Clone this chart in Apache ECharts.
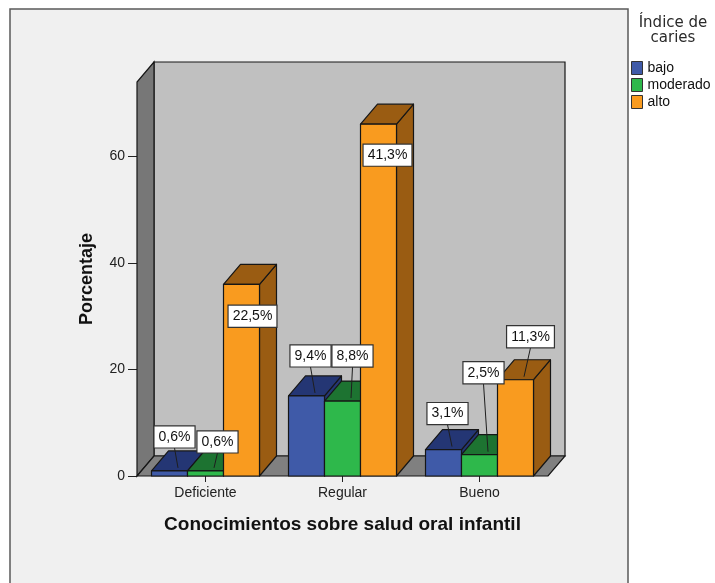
<!DOCTYPE html>
<html>
<head>
<meta charset="utf-8">
<title>Conocimientos sobre salud oral infantil</title>
<script src="https://cdn.jsdelivr.net/npm/echarts@6/dist/echarts.min.js"></script>
<style>
  html, body { margin: 0; padding: 0; background: #ffffff; }
  #chart { width: 715px; height: 583px; }
</style>
</head>
<body>
<div id="chart"></div>
<script>
// ---- Datos: porcentaje por nivel de conocimiento e índice de caries ----
const categories = ['Deficiente', 'Regular', 'Bueno'];
const seriesNames = ['bajo', 'moderado', 'alto'];
const bajo = [0.6, 9.4, 3.1];
const moderado = [0.6, 8.8, 2.5];
const alto = [22.5, 41.3, 11.3];

// Eje vertical: posiciones de las marcas y sus rótulos
const yTickValues = [0, 12.5, 25, 37.5];
const yTickLabels = ['0', '20', '40', '60'];
const yMax = 46.25;

// ---- Estilo ----
const FONT = '"Liberation Sans", Arial, Helvetica, sans-serif';
const DEPTH = { dx: 17, dy: -20 };          // desplazamiento de la profundidad 3D
const BAR_FRACTION = 36 / 137;               // ancho de barra relativo a la banda
const EDGE = '#161616';
const faceColors = [
  { front: '#3F5AA8', dark: '#243674' },
  { front: '#2EB84B', dark: '#1D7331' },
  { front: '#F99B1F', dark: '#9A5C12' }
];
// desplazamiento de cada etiqueta respecto al centro superior frontal de su barra
const labelLayout = [
  [[5, -34], [4, -40], [4, -36]],
  [[12, -29], [10, -45], [4, -82]],
  [[11, 32], [9, 31], [15, -43]]
];

const seriesValues = [bajo, moderado, alto];

function fmtPct(v) {
  return v.toFixed(1).replace('.', ',') + '%';
}

// Paredes y suelo de la escena
function renderScene(params, api) {
  const cs = params.coordSys;
  const L = cs.x, R = cs.x + cs.width, T = cs.y, B = cs.y + cs.height;
  const dx = DEPTH.dx, dy = DEPTH.dy;
  const edge = { stroke: EDGE, lineWidth: 1.2 };
  return {
    type: 'group',
    children: [
      {
        type: 'polygon', z2: -30,
        shape: { points: [[L + dx, T + dy], [R + dx, T + dy], [R + dx, B + dy], [L + dx, B + dy]] },
        style: Object.assign({ fill: '#C0C0C0' }, edge)
      },
      {
        type: 'polygon', z2: -20,
        shape: { points: [[L, B], [L, T], [L + dx, T + dy], [L + dx, B + dy]] },
        style: Object.assign({ fill: '#777777' }, edge)
      },
      {
        type: 'polygon', z2: -20,
        shape: { points: [[L, B], [R, B], [R + dx, B + dy], [L + dx, B + dy]] },
        style: Object.assign({ fill: '#808080' }, edge)
      }
    ]
  };
}

// Barras 3D con su etiqueta
function makeBarRenderer(sIdx) {
  return function (params, api) {
    const cat = api.value(0);
    const val = api.value(1);
    const top = api.coord([cat, val]);
    const base = api.coord([cat, 0]);
    const band = api.size([1, 0])[0];
    const w = band * BAR_FRACTION;
    const x0 = top[0] + (sIdx - 1) * w - w / 2;
    const x1 = x0 + w;
    const yT = top[1], yB = base[1];
    const dx = DEPTH.dx, dy = DEPTH.dy;
    const col = faceColors[sIdx];
    const edge = { stroke: EDGE, lineWidth: 1.2, lineJoin: 'round' };
    const zb = sIdx * 5;

    const children = [
      {
        type: 'polygon', z2: zb,
        shape: { points: [[x1, yT], [x1, yB], [x1 + dx, yB + dy], [x1 + dx, yT + dy]] },
        style: Object.assign({ fill: col.dark }, edge)
      },
      {
        type: 'polygon', z2: zb + 1,
        shape: { points: [[x0, yT], [x1, yT], [x1 + dx, yT + dy], [x0 + dx, yT + dy]] },
        style: Object.assign({ fill: col.dark }, edge)
      },
      {
        type: 'rect', z2: zb + 2,
        shape: { x: x0, y: yT, width: w, height: yB - yT },
        style: Object.assign({ fill: col.front }, edge)
      }
    ];

    const off = labelLayout[sIdx][cat];
    const cx = (x0 + x1) / 2 + off[0];
    const cy = yT + off[1];
    if (off[1] < 0) {
      children.push({
        type: 'line', z2: 100,
        shape: { x1: cx, y1: cy + 11, x2: (x0 + x1) / 2 + dx / 2, y2: yT + dy * 0.15 },
        style: { stroke: '#1e1e1e', lineWidth: 1 }
      });
    }
    children.push({
      type: 'text', z2: 101,
      style: {
        text: fmtPct(val),
        x: cx, y: cy,
        align: 'center', verticalAlign: 'middle',
        fill: '#111111',
        font: '14px ' + FONT,
        backgroundColor: '#ffffff',
        borderColor: '#333333',
        borderWidth: 1.2,
        padding: [4, 4, 3, 4]
      }
    });
    return { type: 'group', children: children };
  };
}

const chart = echarts.init(document.getElementById('chart'), null, { renderer: 'canvas' });

const series = [
  {
    type: 'custom',
    renderItem: renderScene,
    data: [[0, 0]],
    clip: false,
    silent: true
  }
];
seriesValues.forEach(function (vals, sIdx) {
  series.push({
    type: 'custom',
    name: seriesNames[sIdx],
    renderItem: makeBarRenderer(sIdx),
    data: vals.map(function (v, i) { return [i, v]; }),
    itemStyle: { color: faceColors[sIdx].front },
    clip: false,
    silent: true
  });
});

chart.setOption({
  animation: false,
  backgroundColor: '#ffffff',
  graphic: [
    {
      type: 'rect', z: -10,
      shape: { x: 10, y: 9, width: 618, height: 590 },
      style: { fill: '#F0F0F0', stroke: '#5a5a5a', lineWidth: 1.5 }
    },
    {
      type: 'text', z: 5,
      style: {
        text: 'Índice de\ncaries',
        x: 673, y: 16,
        align: 'center', verticalAlign: 'top',
        font: '15px "DejaVu Sans", sans-serif',
        lineHeight: 15,
        fill: '#2a2a2a'
      }
    }
  ],
  legend: {
    data: seriesNames,
    orient: 'vertical',
    left: 631, top: 61,
    padding: 0,
    itemWidth: 11, itemHeight: 13, itemGap: 3,
    icon: 'rect',
    itemStyle: { borderColor: '#333333', borderWidth: 1 },
    textStyle: { fontSize: 14, color: '#111111', fontFamily: FONT },
    selectedMode: false
  },
  grid: { left: 137, top: 82, width: 411, height: 394, containLabel: false, outerBoundsMode: 'none' },
  xAxis: {
    type: 'category',
    data: categories,
    axisLine: { show: false },
    axisTick: { show: true, alignWithLabel: true, length: 6, lineStyle: { color: '#222222' } },
    axisLabel: { color: '#222222', fontSize: 14, fontFamily: FONT, margin: 10 },
    splitLine: { show: false },
    name: 'Conocimientos sobre salud oral infantil',
    nameLocation: 'middle',
    nameGap: 39,
    nameTextStyle: { fontWeight: 'bold', fontSize: 19, color: '#111111', fontFamily: FONT }
  },
  yAxis: {
    type: 'value',
    min: 0, max: yMax,
    axisLine: { show: false },
    splitLine: { show: false },
    axisTick: { show: true, length: 9, customValues: yTickValues, lineStyle: { color: '#222222' } },
    axisLabel: {
      customValues: yTickValues,
      formatter: function (v) {
        const i = yTickValues.indexOf(v);
        return i >= 0 ? yTickLabels[i] : '';
      },
      color: '#222222', fontSize: 14, fontFamily: FONT, margin: 12
    },
    name: 'Porcentaje',
    nameLocation: 'middle',
    nameGap: 41,
    nameRotate: 90,
    nameTextStyle: { fontWeight: 'bold', fontSize: 18, color: '#111111', fontFamily: FONT }
  },
  series: series
});
</script>
</body>
</html>
